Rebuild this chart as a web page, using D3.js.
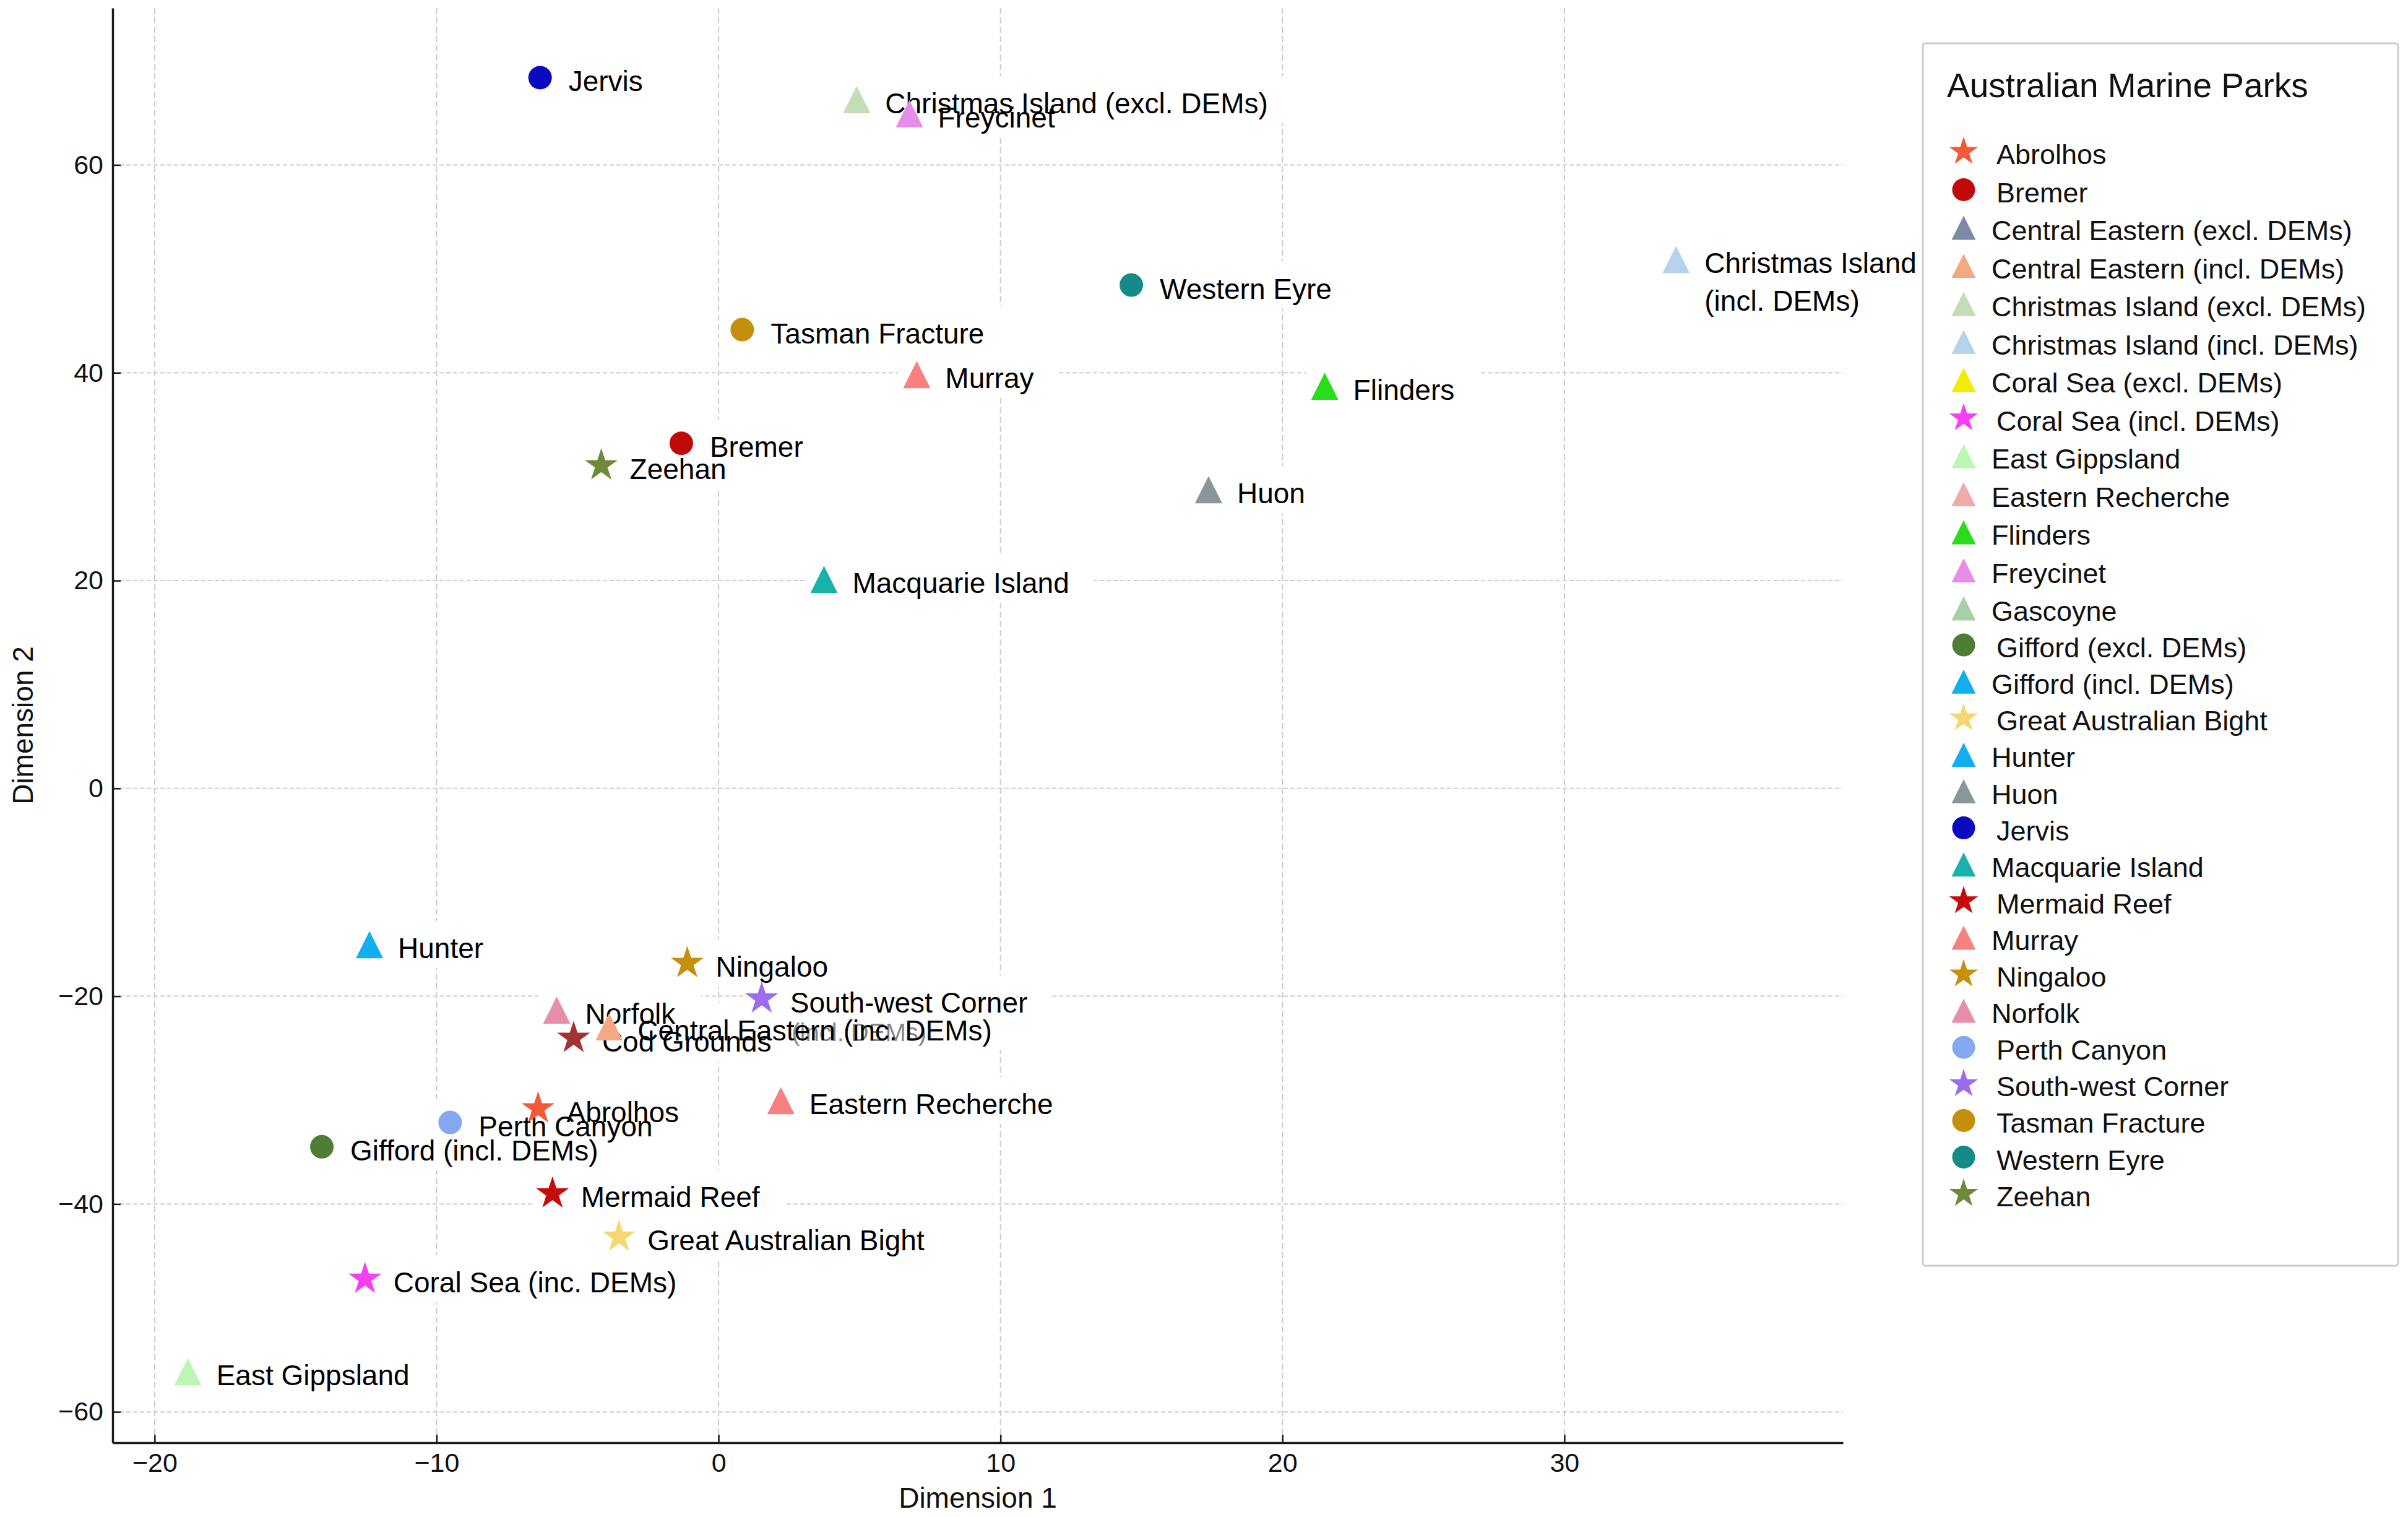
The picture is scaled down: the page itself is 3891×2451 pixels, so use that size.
<!DOCTYPE html>
<html><head><meta charset="utf-8">
<script src="https://cdn.jsdelivr.net/npm/d3@7"></script>
<style>
html,body{margin:0;padding:0;background:#fff;}
svg{display:block;}
text{font-family:"Liberation Sans",Arial,Helvetica,sans-serif;}
</style>
</head><body>
<svg id="chart" width="3891" height="2451"></svg>
<script>
// ---------------- data ----------------
const pointLabels = ["Jervis","Christmas Island (excl. DEMs)","Freycinet","Christmas Island\n(incl. DEMs)",
  "Western Eyre","Tasman Fracture","Murray","Flinders","Bremer","Zeehan","Huon","Macquarie Island",
  "Hunter","Ningaloo","South-west Corner","Norfolk","Central Eastern (inc. DEMs)","Cod Grounds",
  "Abrolhos","Perth Canyon","Gifford (incl. DEMs)","Eastern Recherche","Mermaid Reef",
  "Great Australian Bight","Coral Sea (inc. DEMs)","East Gippsland"];
const pointX = [-6.33,4.90,6.77,33.96,14.64,0.84,7.03,21.50,-1.32,-4.16,17.38,3.74,
  -12.38,-1.11,1.53,-5.74,-3.88,-5.14,-6.40,-9.52,-14.07,2.21,-5.89,-3.53,-12.54,-18.82];
const pointY = [68.40,66.28,64.93,50.89,48.44,44.15,39.83,38.71,33.21,31.08,28.75,20.11,
  -15.04,-16.82,-20.24,-21.33,-22.95,-24.03,-30.81,-32.15,-34.49,-30.04,-38.99,-43.16,-47.21,-56.13];
const pointShapes = ["circle","triangle","triangle","triangle","circle","circle","triangle","triangle",
  "circle","star","triangle","triangle","triangle","star","star","triangle","triangle","star",
  "star","circle","circle","triangle","star","star","star","triangle"];
const pointColors = ["#0a0ac0","#c3deb5","#e58ee8","#b5d3ed","#158b88","#c4900c","#fb8080","#2add1a",
  "#c00a0a","#6e8a38","#8a9698","#18b2aa","#13aef0","#c6900e","#9b6bf0","#e98ea8","#f2a982","#a53232",
  "#f55a38","#85a8f2","#4e7d35","#fb7f7f","#c80a0a","#f5d870","#f53ef5","#bdf5b5"];

// faint overlapped label beneath "Central Eastern (inc. DEMs)"
const ghostLabel = "(incl. DEMs)";
const ghostAnchor = 16; // index of Central Eastern point

const legendTitle = "Australian Marine Parks";
const legendNames = ["Abrolhos","Bremer","Central Eastern (excl. DEMs)","Central Eastern (incl. DEMs)",
  "Christmas Island (excl. DEMs)","Christmas Island (incl. DEMs)","Coral Sea (excl. DEMs)",
  "Coral Sea (incl. DEMs)","East Gippsland","Eastern Recherche","Flinders","Freycinet","Gascoyne",
  "Gifford (excl. DEMs)","Gifford (incl. DEMs)","Great Australian Bight","Hunter","Huon","Jervis",
  "Macquarie Island","Mermaid Reef","Murray","Ningaloo","Norfolk","Perth Canyon","South-west Corner",
  "Tasman Fracture","Western Eyre","Zeehan"];
const legendShapes = ["star","circle","triangle","triangle","triangle","triangle","triangle","star",
  "triangle","triangle","triangle","triangle","triangle","circle","triangle","star","triangle",
  "triangle","circle","triangle","star","triangle","star","triangle","circle","star","circle",
  "circle","star"];
const legendColors = ["#f55a38","#c00a0a","#7b8ba5","#f2a982","#c3deb5","#b5d3ed","#f5ea00","#f53ef5",
  "#bdf5b5","#f0aaaa","#2add1a","#e58ee8","#a8d0a8","#4e7d35","#13aef0","#f5d870","#13aef0",
  "#8a9698","#0a0ac0","#18b2aa","#c80a0a","#fb8080","#c6900e","#e98ea8","#85a8f2","#9b6bf0",
  "#c4900c","#158b88","#6e8a38"];

const xTicks = [-20,-10,0,10,20,30];
const yTicks = [-60,-40,-20,0,20,40,60];
const xTitle = "Dimension 1";
const yTitle = "Dimension 2";

// ---------------- layout ----------------
const svg = d3.select("#chart");
const L = 182, R = 2978, T = 13, B = 2331;
const x = d3.scaleLinear().domain([-21.49, 39.88]).range([L, R]);
const y = d3.scaleLinear().domain([-62.97, 75.1]).range([B, T]);

svg.append("rect").attr("width",3891).attr("height",2451).attr("fill","#fff");

function shapePath(shape, s) {
  if (shape === "circle") {
    const p = d3.path(); p.arc(0,0,s/2,0,2*Math.PI); p.closePath(); return p.toString();
  }
  if (shape === "triangle") {
    return `M0,${-s/2}L${s/2},${s/2}L${-s/2},${s/2}Z`;
  }
  const r = s/2, ri = r*0.381966; let d = "";
  for (let i=0;i<10;i++){
    const a = (-90 + i*36)*Math.PI/180, rr = i%2 ? ri : r;
    d += (i?"L":"M") + (rr*Math.cos(a)).toFixed(2) + "," + (rr*Math.sin(a)).toFixed(2);
  }
  return d + "Z";
}
const plotSize = {circle:38, triangle:44, star:56};
const legSize = {circle:37, triangle:39, star:49};

// grid
const grid = svg.append("g");
grid.selectAll("line.gx").data(xTicks).join("line")
  .attr("x1",d=>x(d)).attr("x2",d=>x(d)).attr("y1",T).attr("y2",B)
  .attr("stroke","#cccccc").attr("stroke-width",2).attr("stroke-dasharray","10,5");
grid.selectAll("line.gy").data(yTicks).join("line")
  .attr("y1",d=>y(d)).attr("y2",d=>y(d)).attr("x1",L).attr("x2",R)
  .attr("stroke","#cccccc").attr("stroke-width",2).attr("stroke-dasharray","7,4");

// groups in drawing order
const gBoxes = svg.append("g");
const gGhost = svg.append("g");
const gText = svg.append("g");
const gMarks = svg.append("g");

const FS = 46, DX = 46, DY = 22, LINE = 61;
pointLabels.forEach((lab,i)=>{
  const px = x(pointX[i]), py = y(pointY[i]);
  const lines = lab.split("\n");
  const t = gText.append("text").attr("font-size",FS).attr("fill","#000");
  lines.forEach((ln,k)=>{
    t.append("tspan").attr("x",px+DX).attr("y",py+DY+k*LINE).text(ln);
  });
  const bb = t.node().getBBox();
  const top = py + DY - 60, bottom = py + DY + (lines.length-1)*LINE + 16;
  gBoxes.append("rect").attr("x",px-30).attr("y",top)
    .attr("width",(bb.x+bb.width+40)-(px-30)).attr("height",bottom-top)
    .attr("fill","#fff");
});

// ghost text (partly hidden label)
{
  const px = x(pointX[ghostAnchor]), py = y(pointY[ghostAnchor]);
  gGhost.append("text").attr("x",px+295).attr("y",py+23).attr("font-size",40)
    .attr("fill","#333").attr("fill-opacity",0.6).text(ghostLabel);
}

// markers
gMarks.selectAll("path").data(pointLabels).join("path")
  .attr("transform",(d,i)=>`translate(${x(pointX[i])},${y(pointY[i])})`)
  .attr("d",(d,i)=>shapePath(pointShapes[i], plotSize[pointShapes[i]]))
  .attr("fill",(d,i)=>pointColors[i]);

// axes
const xAxis = svg.append("g").attr("transform",`translate(0,${B})`)
  .call(d3.axisBottom(x).tickValues(xTicks).tickSizeInner(-13).tickSizeOuter(0).tickPadding(16));
const yAxis = svg.append("g").attr("transform",`translate(${L},0)`)
  .call(d3.axisLeft(y).tickValues(yTicks).tickSizeInner(-13).tickSizeOuter(0).tickPadding(15));
[xAxis,yAxis].forEach(a=>{
  a.select(".domain").attr("stroke","#1a1a1a").attr("stroke-width",3.5);
  a.selectAll(".tick line").attr("stroke","#1a1a1a").attr("stroke-width",2.5);
  a.selectAll(".tick text").attr("font-size",43).attr("fill","#111")
    .attr("font-family",'"Liberation Sans",Arial,sans-serif');
});

svg.append("text").attr("x",(L+R)/2).attr("y",2436).attr("text-anchor","middle")
  .attr("font-size",46).attr("fill","#111").text(xTitle);
svg.append("text").attr("transform",`translate(53,${(T+B)/2}) rotate(-90)`)
  .attr("text-anchor","middle").attr("font-size",46).attr("fill","#111").text(yTitle);

// legend
const leg = svg.append("g");
leg.append("rect").attr("x",3107).attr("y",70).attr("width",768).attr("height",1975)
  .attr("rx",4).attr("fill","#fff").attr("stroke","#cccccc").attr("stroke-width",3);
leg.append("text").attr("x",3146).attr("y",157).attr("font-size",55).attr("fill","#111").text(legendTitle);
const legY = i => i <= 12 ? 249 + i*61.5 : 987 + (i-12)*59.1;
legendNames.forEach((n,i)=>{
  const yc = legY(i);
  leg.append("path").attr("transform",`translate(3173,${yc-4})`)
    .attr("d",shapePath(legendShapes[i], legSize[legendShapes[i]]))
    .attr("fill",legendColors[i]);
  leg.append("text").attr("x",legendShapes[i]==="triangle"?3218:3226).attr("y",yc+16)
    .attr("font-size",45).attr("fill","#111").text(n);
});
</script>
</body></html>
